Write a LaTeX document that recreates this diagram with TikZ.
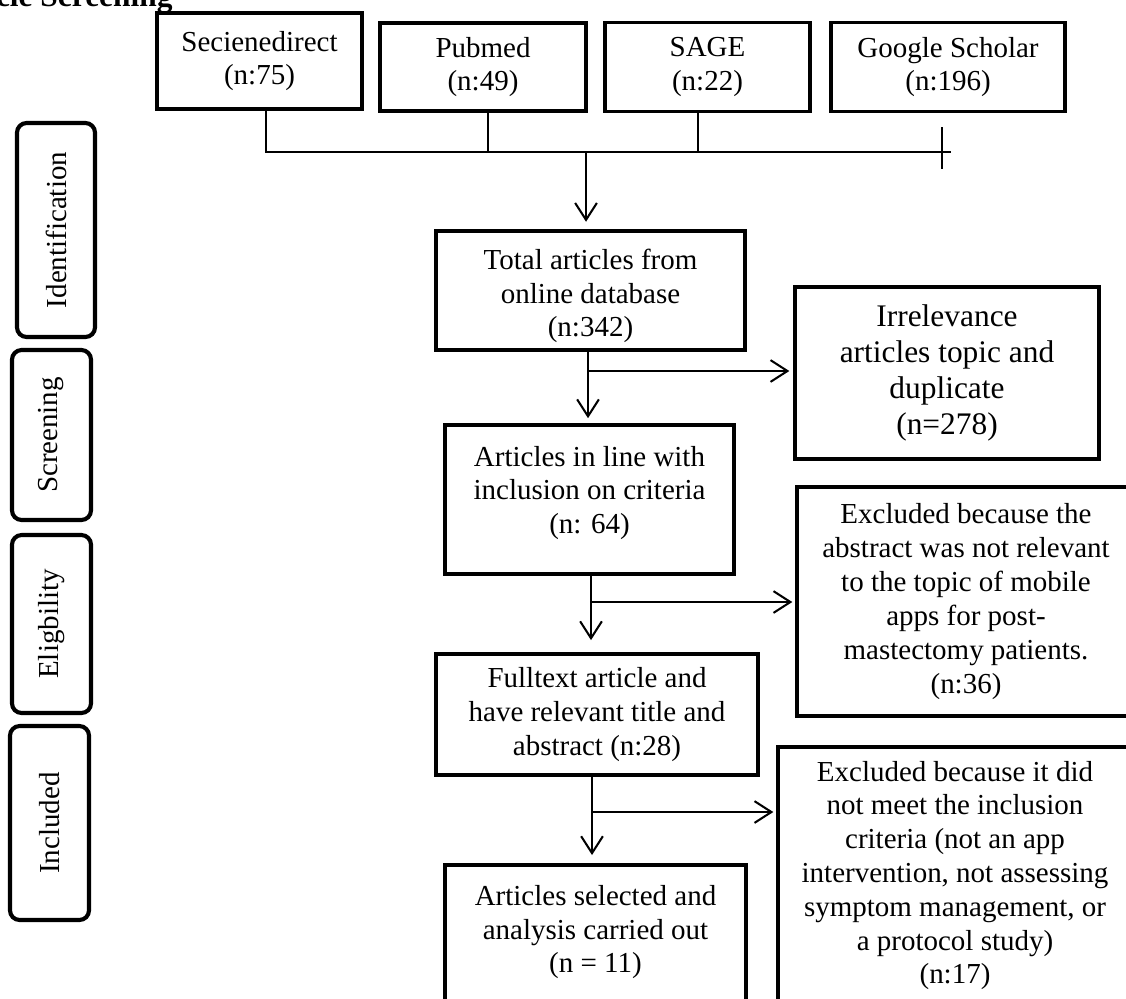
\documentclass[tikz,border=0pt]{standalone}
\usepackage{fontspec}
\setmainfont{Liberation Serif}
\usepackage{tikz}
\usetikzlibrary{arrows.meta}

\newcommand{\pxu}{0.414pt}

\begin{document}
\begin{tikzpicture}[x=\pxu,y=-\pxu,
  box/.style={draw,line width=1.5pt,align=center,inner sep=0pt,font=\fontsize{12}{14}\selectfont},
  stage/.style={draw,line width=1.7pt,rounded corners=4pt,rotate=90,inner sep=0pt,font=\fontsize{12}{14}\selectfont},
  line/.style={line width=0.85pt},
  arr/.style={line width=0.85pt,-{Straight Barb[length=7pt,width=9pt]}}]
\useasboundingbox (0,0) rectangle (1126,998);
\clip (0,0) rectangle (1126,998);

\node[anchor=base east,font=\fontsize{13}{15}\selectfont\bfseries] (title) at (181,6) {Article Screening};

\node[box,minimum width=205*\pxu,minimum height=96*\pxu] (sd) at (259.5,61) {Secienedirect\\(n:75)};
\node[box,minimum width=206*\pxu,minimum height=88*\pxu] (pm) at (483,67) {Pubmed\\(n:49)};
\node[box,minimum width=205*\pxu,minimum height=89*\pxu] (sage) at (707.5,67) {SAGE\\(n:22)};
\node[box,minimum width=234*\pxu,minimum height=89*\pxu] (gs) at (948,67) {Google Scholar\\(n:196)};

\node[stage,minimum width=214*\pxu,minimum height=78*\pxu] (ident) at (56,230) {Identification};
\node[stage,minimum width=170*\pxu,minimum height=79*\pxu] (screen) at (51.5,435) {Screening};
\node[stage,minimum width=178*\pxu,minimum height=79*\pxu] (elig) at (51.5,624) {Eligbility};
\node[stage,minimum width=194*\pxu,minimum height=79*\pxu] (incl) at (49.5,823) {Included};

\node[box,anchor=north,text height=43.9pt,text depth=5.4pt,minimum width=309*\pxu] (total) at (590.5,229) {Total articles from\\online database\\(n:342)};
\node[box,anchor=north,text height=45.1pt,text depth=16.6pt,minimum width=289*\pxu] (scr) at (589.5,423) {Articles in line with\\inclusion on criteria\\(n: 64)};
\node[box,minimum width=322*\pxu,minimum height=121*\pxu] (full) at (597,714.5) {Fulltext article and\\have relevant title and\\abstract (n:28)};
\node[box,anchor=north,inner ysep=8.4pt,text depth=36pt,minimum width=301*\pxu] (fin) at (595.5,863) {Articles selected and\\analysis carried out\\(n = 11)};

\node[box,font=\fontsize{13}{15}\selectfont,minimum width=304*\pxu,minimum height=172*\pxu] (irr) at (947,373) {Irrelevance\\articles topic and\\duplicate\\(n=278)};
\node[box,minimum width=338*\pxu,minimum height=229*\pxu] (exa) at (966,601.5) {Excluded because the\\abstract was not relevant\\to the topic of mobile\\apps for post-\\mastectomy patients.\\(n:36)};
\node[box,minimum width=354*\pxu,minimum height=257*\pxu] (exb) at (955,875.5) {Excluded because it did\\not meet the inclusion\\criteria (not an app\\intervention, not assessing\\symptom management, or\\a protocol study)\\(n:17)};

\coordinate (j1) at (266,152);
\coordinate (j2) at (488,152);
\coordinate (j3) at (698,152);
\coordinate (jm) at (586,152);
\coordinate (jend) at (951,152);
\coordinate (t1) at (942,127);
\coordinate (t2) at (942,169);
\draw[line] (sd.south -| j1) -- (j1) -- (jend);
\draw[line] (pm.south -| j2) -- (j2);
\draw[line] (sage.south -| j3) -- (j3);
\draw[line] (t1) -- (t2);
\draw[arr,shorten >=3pt] (jm) -- (total.north -| jm);

\coordinate (m1) at (588,371);
\coordinate (m2) at (591,602);
\coordinate (m3) at (592,812);
\draw[arr,shorten >=2pt] (total.south -| m1) -- (scr.north -| m1);
\draw[arr,shorten >=1.6pt] (m1) -- (irr.west |- m1);
\draw[arr,shorten >=5pt] (scr.south -| m2) -- (full.north -| m2);
\draw[arr,shorten >=1.2pt] (m2) -- (exa.west |- m2);
\draw[arr,shorten >=3.3pt] (full.south -| m3) -- (fin.north -| m3);
\draw[arr,shorten >=1.2pt] (m3) -- (exb.west |- m3);
\end{tikzpicture}
\end{document}
